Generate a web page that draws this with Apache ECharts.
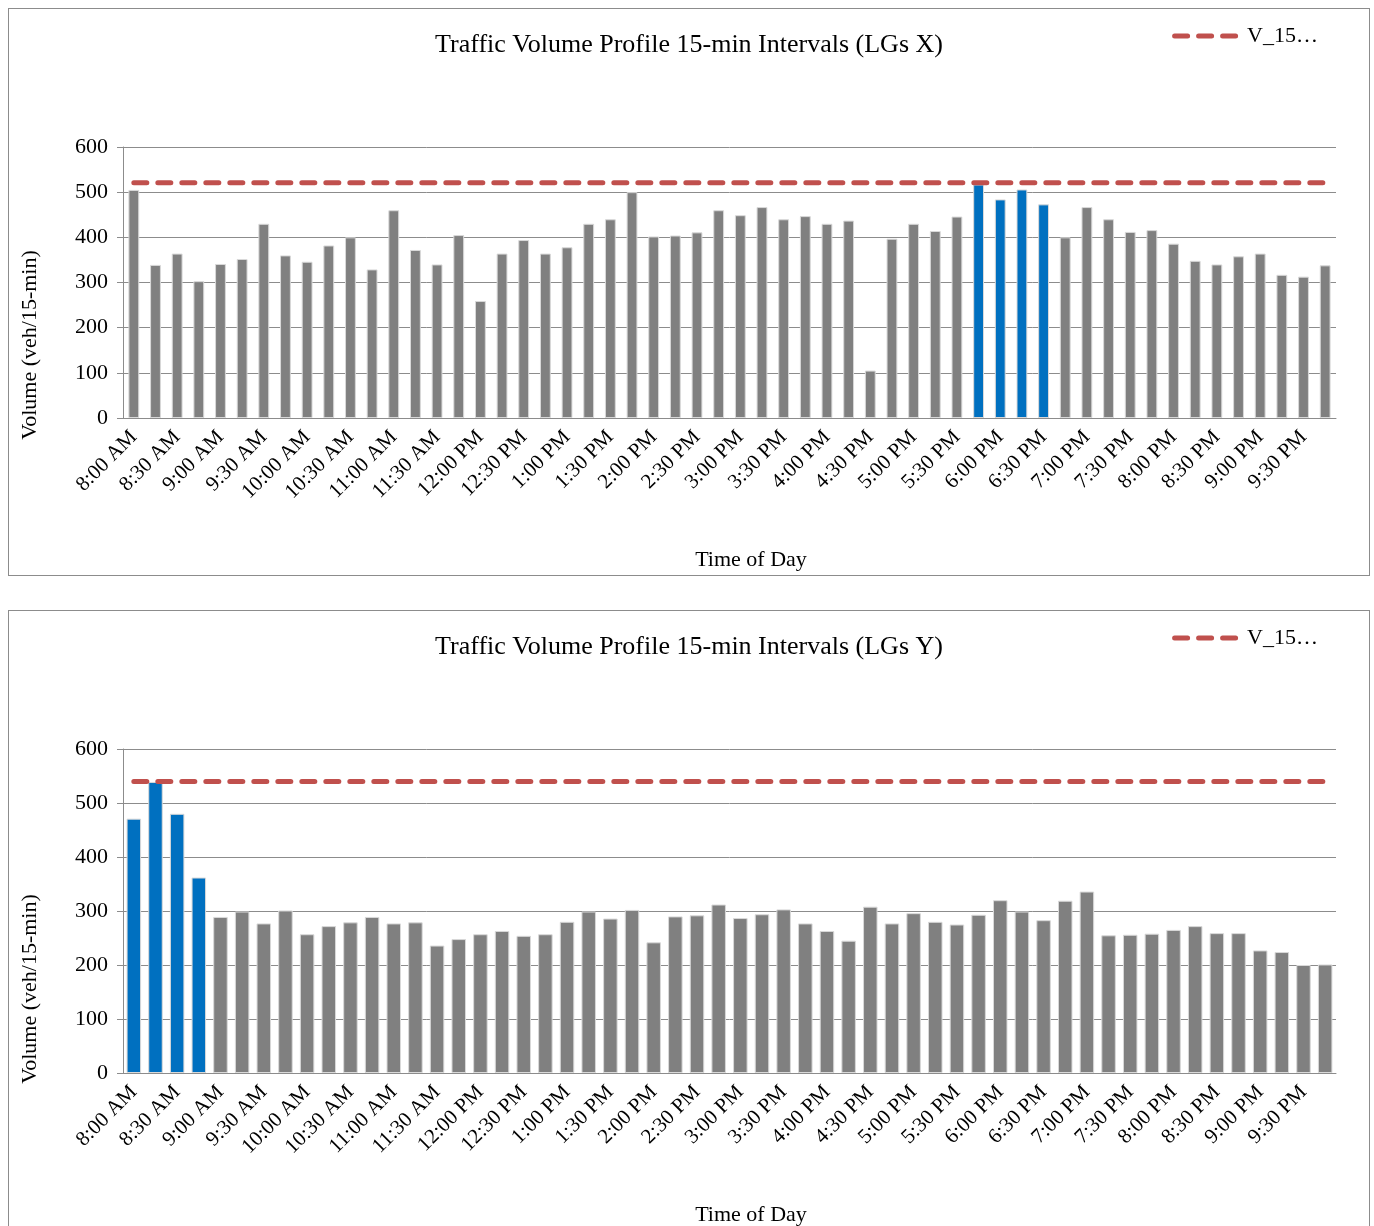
<!DOCTYPE html>
<html>
<head>
<meta charset="utf-8">
<script src="https://cdn.jsdelivr.net/npm/echarts@6/dist/echarts.min.js"></script>
<style>
  body { margin: 0; background: #fff; }
  .box { position: absolute; left: 8px; width: 1362px; border: 1px solid #8c8c8c; box-sizing: border-box; }
  #chartX { top: 8px; height: 568px; }
  #chartY { top: 610px; height: 640px; }
</style>
</head>
<body>
<div id="chartX" class="box"></div>
<div id="chartY" class="box"></div>
<script>
// 时间轴，15分钟一格
var timeLabels = [
  '8:00 AM', '8:15 AM', '8:30 AM', '8:45 AM', '9:00 AM', '9:15 AM', '9:30 AM', '9:45 AM',
  '10:00 AM', '10:15 AM', '10:30 AM', '10:45 AM', '11:00 AM', '11:15 AM', '11:30 AM', '11:45 AM',
  '12:00 PM', '12:15 PM', '12:30 PM', '12:45 PM', '1:00 PM', '1:15 PM', '1:30 PM', '1:45 PM',
  '2:00 PM', '2:15 PM', '2:30 PM', '2:45 PM', '3:00 PM', '3:15 PM', '3:30 PM', '3:45 PM',
  '4:00 PM', '4:15 PM', '4:30 PM', '4:45 PM', '5:00 PM', '5:15 PM', '5:30 PM', '5:45 PM',
  '6:00 PM', '6:15 PM', '6:30 PM', '6:45 PM', '7:00 PM', '7:15 PM', '7:30 PM', '7:45 PM',
  '8:00 PM', '8:15 PM', '8:30 PM', '8:45 PM', '9:00 PM', '9:15 PM', '9:30 PM', '9:45 PM'
]
// LGs X 流量
var volumeX = [
  505, 339, 364, 303, 341, 352, 430, 360, 346, 382, 400, 329, 460, 372, 340, 405,
  259, 364, 394, 364, 378, 430, 440, 500, 402, 404, 411, 460, 449, 467, 440, 447,
  430, 437, 105, 397, 430, 414, 446, 517, 484, 506, 473, 400, 467, 440, 412, 416,
  386, 348, 340, 358, 364, 317, 313, 338
]
// LGs Y 流量
var volumeY = [
  471, 539, 480, 362, 289, 299, 277, 301, 257, 272, 279, 289, 277, 279, 236, 248,
  257, 263, 254, 257, 280, 299, 286, 302, 242, 290, 292, 312, 287, 294, 303, 277,
  263, 245, 308, 277, 296, 280, 275, 293, 320, 299, 283, 319, 336, 255, 256, 258,
  265, 272, 259, 259, 227, 224, 200, 201
]
// 高峰小时(蓝色)的下标
var peakX = [39, 40, 41, 42]
var peakY = [0, 1, 2, 3]
// V_15 阈值
var v15X = 521
var v15Y = 540

var FONT = '"Liberation Serif", "Times New Roman", serif'
var GRAY = '#808080'
var BLUE = '#0070c0'
var RED = '#c0504d'

// 图例图标：三段圆头短划线
var DASH_ICON = 'path://' +
  'M2.5,0L15.5,0A2.5,2.5,0,0,1,15.5,5L2.5,5A2.5,2.5,0,0,1,2.5,0Z' +
  'M26.5,0L39.5,0A2.5,2.5,0,0,1,39.5,5L26.5,5A2.5,2.5,0,0,1,26.5,0Z' +
  'M50.5,0L63.5,0A2.5,2.5,0,0,1,63.5,5L50.5,5A2.5,2.5,0,0,1,50.5,0Z'

// cfg: 每个图的布局差异
function makeOption(title, values, peaks, v15, cfg) {
  return {
    animation: false,
    textStyle: { fontFamily: FONT },
    title: {
      text: title,
      left: 'center',
      top: 18,
      textStyle: { fontFamily: FONT, fontSize: 26, fontWeight: 'normal', color: '#000' }
    },
    legend: {
      right: 46,
      top: cfg.legendTop,
      itemWidth: 66,
      itemHeight: 5,
      itemGap: 14,
      textStyle: { fontFamily: FONT, fontSize: 22, color: '#000', padding: [0, 0, 0, 4] },
      data: [{ name: 'V_15…', icon: DASH_ICON, itemStyle: { color: RED } }]
    },
    grid: { left: 114, right: 33, top: 138, bottom: cfg.gridBottom },
    // 轴标题用 graphic 定位，和原图的位置一致
    graphic: [
      {
        type: 'text',
        x: 21,
        y: cfg.yNameY,
        rotation: Math.PI / 2,
        style: {
          text: 'Volume (veh/15-min)',
          font: '22px ' + FONT,
          fill: '#000',
          textAlign: 'center',
          textVerticalAlign: 'middle'
        }
      },
      {
        type: 'text',
        x: 742,
        y: cfg.xNameY,
        style: {
          text: 'Time of Day',
          font: '22px ' + FONT,
          fill: '#000',
          textAlign: 'center',
          textVerticalAlign: 'middle'
        }
      }
    ],
    xAxis: {
      type: 'category',
      data: timeLabels,
      axisLine: { lineStyle: { color: '#8c8c8c', width: 1 } },
      axisTick: { interval: 0, length: 6, lineStyle: { color: '#8c8c8c' } },
      axisLabel: { interval: 1, rotate: 45, fontFamily: FONT, fontSize: 21, color: '#000', margin: 16 }
    },
    yAxis: {
      type: 'value',
      min: 0,
      max: 600,
      interval: 100,
      axisLine: { show: true, lineStyle: { color: '#8c8c8c', width: 1 } },
      axisTick: { show: true, length: 6, lineStyle: { color: '#8c8c8c' } },
      axisLabel: { fontFamily: FONT, fontSize: 22, color: '#000', margin: 15 },
      splitLine: { lineStyle: { color: '#8c8c8c', width: 1 } }
    },
    series: [
      {
        type: 'bar',
        barCategoryGap: cfg.barGap,
        data: values.map(function (v, i) {
          return {
            value: v,
            itemStyle: { color: peaks.includes(i) ? BLUE : GRAY }
          }
        }),
        itemStyle: { borderColor: '#d9d9d9', borderWidth: 1 }
      },
      {
        name: 'V_15…',
        type: 'line',
        symbol: 'none',
        data: timeLabels.map(function () { return v15 }),
        lineStyle: { color: RED, width: 5, type: [13, 11], cap: 'round' },
        itemStyle: { color: RED }
      }
    ]
  }
}

var chartX = echarts.init(document.getElementById('chartX'))
chartX.setOption(makeOption('Traffic Volume Profile 15-min Intervals (LGs X)', volumeX, peakX, v15X,
  { gridBottom: 157, legendTop: 11, yNameY: 336, xNameY: 551, barGap: '50%' }))
var chartY = echarts.init(document.getElementById('chartY'))
chartY.setOption(makeOption('Traffic Volume Profile 15-min Intervals (LGs Y)', volumeY, peakY, v15Y,
  { gridBottom: 176, legendTop: 11, yNameY: 378, xNameY: 604, barGap: '33%' }))

window.addEventListener('resize', () => {
  chartX.resize()
  chartY.resize()
})
</script>
</body>
</html>
